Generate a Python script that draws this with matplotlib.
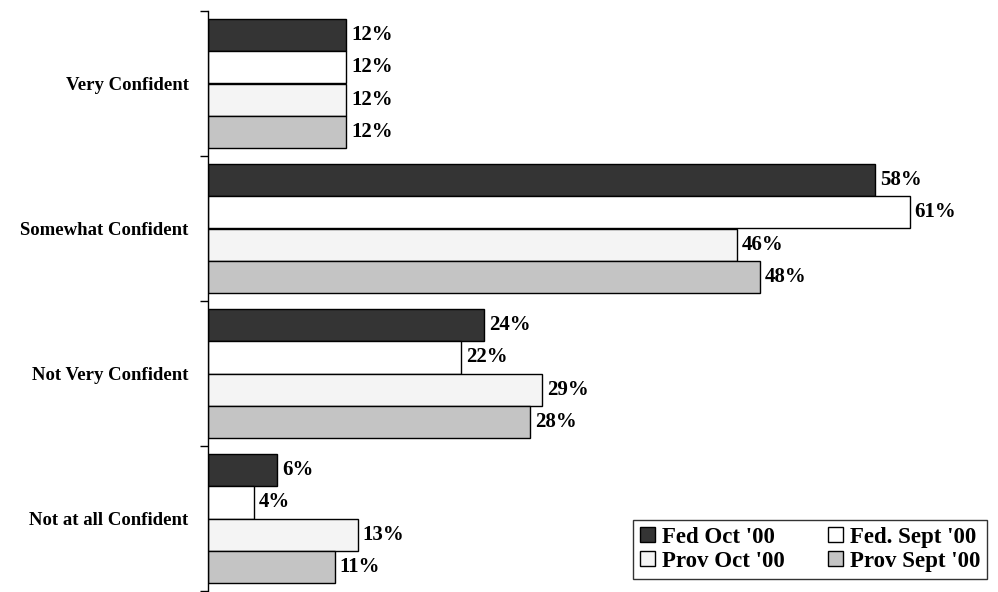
import matplotlib
matplotlib.use("Agg")
import matplotlib.pyplot as plt
import numpy as np

# survey data
categories = ["Very Confident", "Somewhat Confident", "Not Very Confident", "Not at all Confident"]
series = ["Fed Oct '00", "Fed. Sept '00", "Prov Oct '00", "Prov Sept '00"]
fed_oct = [12, 58, 24, 6]
fed_sept = [12, 61, 22, 4]
prov_oct = [12, 46, 29, 13]
prov_sept = [12, 48, 28, 11]

colors = ["#343434", "#ffffff", "#f4f4f4", "#c4c4c4"]

plt.rcParams["font.family"] = ["Liberation Serif", "DejaVu Serif"]
plt.rcParams["font.weight"] = "bold"

fig = plt.figure(figsize=(9.98, 5.92), dpi=100)
fig.patch.set_fc("white")
ax = fig.add_axes([208 / 998, 1 / 592, 1 - 208 / 998, 580 / 592])

y = np.arange(len(categories))
h = 0.224
values = [fed_oct, fed_sept, prov_oct, prov_sept]
for k, (name, vals, c) in enumerate(zip(series, values, colors)):
    pos = y + (k - 1.5) * h
    ax.barh(pos, vals, height=h, color=c, edgecolor="black", linewidth=1.0, label=name)
    for p, v in zip(pos, vals):
        ax.text(v + 0.45, p, f"{v}%", va="center", ha="left", fontsize=15, fontweight="bold")

ax.set_xlim(0, 790 / 11.5)
ax.set_ylim(3.5, -0.5)

# boundary ticks between groups, category names as minor ticks
ax.set_yticks([-0.5, 0.5, 1.5, 2.5, 3.5])
ax.set_yticklabels([])
ax.set_yticks(y, minor=True)
ax.set_yticklabels(categories, minor=True, fontsize=13.5, fontweight="bold")
ax.tick_params(axis="y", which="major", length=6, width=1, direction="out")
ax.tick_params(axis="y", which="minor", length=0, pad=14)
ax.set_xticks([])

for s in ["top", "right", "bottom"]:
    ax.spines[s].set_visible(False)
ax.spines["left"].set_linewidth(1.0)

handles, labels = ax.get_legend_handles_labels()
order = [0, 2, 1, 3]
leg = ax.legend([handles[i] for i in order], [labels[i] for i in order],
                ncol=2, loc="upper left", bbox_to_anchor=(633 / 998, 1 - 520 / 592),
                bbox_transform=fig.transFigure, frameon=True, fancybox=False,
                edgecolor="black", prop={"size": 16.5, "weight": "bold"},
                handlelength=0.65, handleheight=0.65, handletextpad=0.3,
                columnspacing=1.9, labelspacing=0.12, borderpad=0.3, borderaxespad=0)
leg.get_frame().set_linewidth(1.0)

fig.savefig("out.png", dpi=100)
